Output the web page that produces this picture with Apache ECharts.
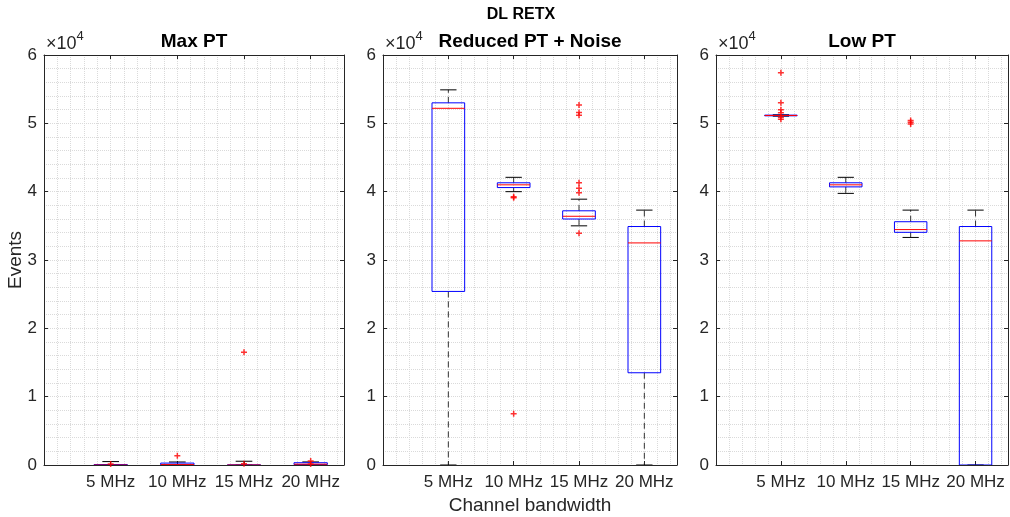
<!DOCTYPE html>
<html>
<head>
<meta charset="utf-8">
<title>DL RETX</title>
<script src="https://cdn.jsdelivr.net/npm/echarts@6/dist/echarts.min.js"></script>
<style>
  html, body { margin: 0; padding: 0; background: #fff; }
  #chart { width: 1010px; height: 517px; }
</style>
</head>
<body>
<div id="chart"></div>
<script>
const categories = ['5 MHz', '10 MHz', '15 MHz', '20 MHz']
const yTicks = [0, 10000, 20000, 30000, 40000, 50000, 60000]

// each box: [lower whisker, q1, median, q3, upper whisker]
const maxPtStats = [
  [0, 0, 0, 60, 500],
  [0, 20, 60, 280, 440],
  [0, 0, 0, 0, 550],
  [0, 60, 120, 330, 450]
]
const maxPtOutliers = [[150], [1350], [16500, 200], [150, 600]]

const reducedStats = [
  [0, 25400, 52200, 53000, 54900],
  [40000, 40600, 41000, 41300, 42100],
  [35000, 36000, 36400, 37200, 38900],
  [0, 13500, 32500, 34900, 37300]
]
const reducedOutliers = [
  [],
  [39250, 39100, 7500],
  [33900, 39850, 40500, 41300, 51200, 51600, 52700],
  []
]

const lowStats = [
  [51050, 51100, 51150, 51200, 51250],
  [39750, 40700, 41000, 41300, 42100],
  [33300, 34050, 34450, 35600, 37300],
  [0, 0, 32800, 34900, 37300]
]
const lowOutliers = [
  [57400, 53000, 52000, 51550, 50900, 50600],
  [],
  [50400, 50150, 49900],
  []
]

const panels = [
  { title: 'Max PT', stats: maxPtStats, outliers: maxPtOutliers, left: 44, width: 300 },
  { title: 'Reduced PT + Noise', stats: reducedStats, outliers: reducedOutliers, left: 383, width: 294 },
  { title: 'Low PT', stats: lowStats, outliers: lowOutliers, left: 716, width: 292 }
]

const FONT = '"Liberation Sans", Arial, Helvetica, sans-serif'
const AXIS_COLOR = '#262626'
const GRID_COLOR = '#dadada'
const PLUS = 'path://M-1,-4H1V-1H4V1H1V4H-1V1H-4V-1H-1Z'
const BOX_W = 0.5

function renderBox(params, api) {
  const x = api.value(0)
  const pLw = api.coord([x, api.value(1)])
  const pQ1 = api.coord([x, api.value(2)])
  const pMed = api.coord([x, api.value(3)])
  const pQ3 = api.coord([x, api.value(4)])
  const pUw = api.coord([x, api.value(5)])
  const half = api.size([BOX_W, 0])[0] / 2
  const capHalf = half / 2
  const cx = pQ1[0]
  const dash = { stroke: '#333', lineWidth: 1, lineDash: [6, 4] }
  const cap = { stroke: '#000', lineWidth: 1 }
  return {
    type: 'group',
    children: [
      { type: 'line', shape: { x1: cx, y1: pQ1[1], x2: cx, y2: pLw[1] }, style: dash },
      { type: 'line', shape: { x1: cx, y1: pQ3[1], x2: cx, y2: pUw[1] }, style: dash },
      { type: 'line', shape: { x1: cx - capHalf, y1: pLw[1], x2: cx + capHalf, y2: pLw[1] }, style: cap },
      { type: 'line', shape: { x1: cx - capHalf, y1: pUw[1], x2: cx + capHalf, y2: pUw[1] }, style: cap },
      {
        type: 'rect',
        shape: { x: cx - half, y: pQ3[1], width: half * 2, height: pQ1[1] - pQ3[1] },
        style: { fill: 'none', stroke: '#0000ff', lineWidth: 1 }
      },
      { type: 'line', shape: { x1: cx - half, y1: pMed[1], x2: cx + half, y2: pMed[1] }, style: { stroke: '#ff0000', lineWidth: 1 } }
    ]
  }
}

const grid = []
const xAxis = []
const yAxis = []
const series = []
const title = [{
  text: 'DL RETX',
  left: 521,
  top: 7,
  padding: 0,
  textAlign: 'center',
  textStyle: { fontSize: 16, fontWeight: 'bold', color: '#000', fontFamily: FONT }
}]

panels.forEach((p, i) => {
  grid.push({ left: p.left, width: p.width, top: 55, height: 410, containLabel: false, outerBoundsMode: 'none' })

  title.push({
    text: p.title,
    left: p.left + p.width / 2,
    top: 32,
    padding: 0,
    textAlign: 'center',
    textStyle: { fontSize: 19, fontWeight: 'bold', color: '#000', fontFamily: FONT }
  })

  // bottom axis with category labels
  xAxis.push({
    gridIndex: i, type: 'value', min: 0, max: 4.5, interval: 1, position: 'bottom',
    axisLine: { onZero: false, lineStyle: { color: AXIS_COLOR, width: 1 } },
    axisTick: { inside: true, length: 4, lineStyle: { color: AXIS_COLOR } },
    axisLabel: {
      formatter: v => categories[v - 1] || '',
      fontSize: 17, color: AXIS_COLOR, fontFamily: FONT, margin: 9
    },
    splitLine: { show: false },
    name: i === 1 ? 'Channel bandwidth' : '',
    nameLocation: 'middle',
    nameGap: 31,
    nameTextStyle: { fontSize: 19, color: AXIS_COLOR, fontFamily: FONT }
  })
  // top mirror axis
  xAxis.push({
    gridIndex: i, type: 'value', min: 0, max: 4.5, interval: 1, position: 'top',
    axisLine: { onZero: false, lineStyle: { color: AXIS_COLOR, width: 1 } },
    axisTick: { inside: true, length: 4, lineStyle: { color: AXIS_COLOR } },
    axisLabel: { show: false },
    splitLine: { show: false }
  })
  // minor grid along x
  xAxis.push({
    gridIndex: i, type: 'value', min: 0, max: 4.5, interval: 0.2, position: 'bottom',
    axisLine: { show: false, onZero: false },
    axisTick: { show: false },
    axisLabel: { show: false },
    splitLine: { show: true, lineStyle: { color: GRID_COLOR, type: 'dotted', width: 1 } }
  })

  yAxis.push({
    gridIndex: i, type: 'value', min: yTicks[0], max: yTicks[yTicks.length - 1], interval: 10000, position: 'left',
    axisLine: { show: true, onZero: false, lineStyle: { color: AXIS_COLOR, width: 1 } },
    axisTick: { show: true, inside: true, length: 4, lineStyle: { color: AXIS_COLOR } },
    axisLabel: { formatter: v => String(v / 10000), fontSize: 17, color: AXIS_COLOR, fontFamily: FONT, margin: 7 },
    splitLine: { show: true, lineStyle: { color: GRID_COLOR, type: 'dotted', width: 1 } },
    minorTick: { show: false, splitNumber: 5 },
    minorSplitLine: { show: true, lineStyle: { color: GRID_COLOR, type: 'dotted', width: 1 } },
    name: '{b|×10}{s|4}',
    nameLocation: 'end',
    nameGap: 2,
    nameTextStyle: {
      align: 'left',
      verticalAlign: 'bottom',
      padding: [0, 0, 0, 2],
      rich: {
        b: { fontSize: 18, color: AXIS_COLOR, fontFamily: FONT, verticalAlign: 'bottom', lineHeight: 23 },
        s: { fontSize: 13, color: AXIS_COLOR, fontFamily: FONT, verticalAlign: 'top', lineHeight: 23 }
      }
    }
  })
  yAxis.push({
    gridIndex: i, type: 'value', min: yTicks[0], max: yTicks[yTicks.length - 1], interval: 10000, position: 'right',
    axisLine: { show: true, onZero: false, lineStyle: { color: AXIS_COLOR, width: 1 } },
    axisTick: { show: true, inside: true, length: 4, lineStyle: { color: AXIS_COLOR } },
    axisLabel: { show: false },
    splitLine: { show: false }
  })

  series.push({
    type: 'custom',
    xAxisIndex: i * 3,
    yAxisIndex: i * 2,
    renderItem: renderBox,
    encode: { x: 0, y: [1, 2, 3, 4, 5] },
    data: p.stats.map((s, k) => [k + 1].concat(s)),
    clip: true,
    silent: true,
    z: 2
  })

  const pts = []
  p.outliers.forEach((vals, k) => vals.forEach(v => pts.push([k + 1, v])))
  series.push({
    type: 'scatter',
    xAxisIndex: i * 3,
    yAxisIndex: i * 2,
    symbol: PLUS,
    symbolSize: 6,
    itemStyle: { color: '#ff0000' },
    data: pts,
    silent: true,
    z: 3
  })
})

const chart = echarts.init(document.getElementById('chart'), null, { renderer: 'canvas' })
chart.setOption({
  animation: false,
  backgroundColor: '#fff',
  textStyle: { fontFamily: FONT },
  title,
  grid,
  xAxis,
  yAxis,
  series,
  graphic: [{
    type: 'text',
    x: 16,
    y: 260,
    rotation: Math.PI / 2,
    style: {
      text: 'Events',
      fontSize: 19,
      fontFamily: FONT,
      fill: AXIS_COLOR,
      textAlign: 'center',
      textVerticalAlign: 'middle'
    }
  }]
})
</script>
</body>
</html>
